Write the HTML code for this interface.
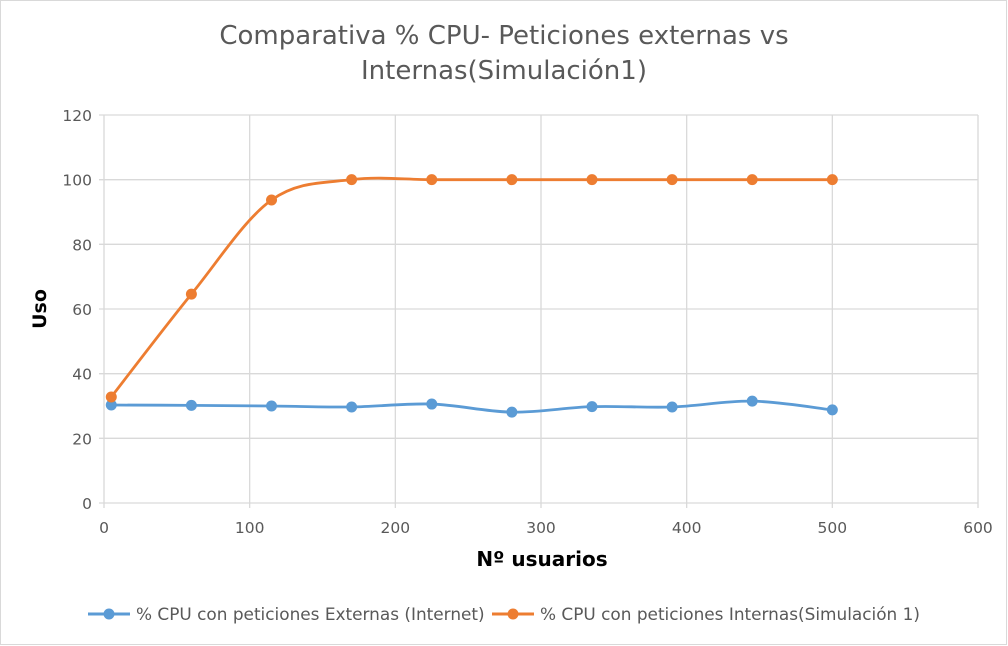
<!DOCTYPE html>
<html><head><meta charset="utf-8"><style>
body{margin:0;background:#fff}
svg{display:block;font-family:"DejaVu Sans","Liberation Sans",sans-serif}
</style></head><body>
<svg width="1008" height="646" viewBox="0 0 1008 646">
<rect x="0.5" y="0.5" width="1006" height="644" fill="#fff" stroke="#d9d9d9"/>
<text x="504" y="44" text-anchor="middle" font-size="26" fill="#595959">Comparativa % CPU- Peticiones externas vs</text>
<text x="504" y="79" text-anchor="middle" font-size="26" fill="#595959">Internas(Simulación1)</text>
<g id="grid"></g>
<g id="axes"></g>
<text x="542" y="566" text-anchor="middle" font-size="20" font-weight="bold" fill="#000">Nº usuarios</text>
<text transform="translate(46,309) rotate(-90)" text-anchor="middle" font-size="19" font-weight="bold" fill="#000">Uso</text>
<g id="series"></g>
<g>
<g>
<line x1="88" y1="614" x2="130" y2="614" stroke="#5b9bd5" stroke-width="3"/>
<circle cx="109" cy="614" r="5.5" fill="#5b9bd5"/>
<text x="136" y="620" font-size="16.9" fill="#595959">% CPU con peticiones Externas (Internet)</text>
</g>
<g>
<line x1="492" y1="614" x2="534" y2="614" stroke="#ed7d31" stroke-width="3"/>
<circle cx="513" cy="614" r="5.5" fill="#ed7d31"/>
<text x="540" y="620" font-size="16.9" fill="#595959">% CPU con peticiones Internas(Simulación 1)</text>
</g>
</g>
</svg>
<script>
const users=[5,60,115,170,225,280,335,390,445,500];
const externas=[30.3,30.2,30,29.7,30.6,28.1,29.8,29.7,31.5,28.8];
const internas=[32.8,64.6,93.7,100,100,100,100,100,100,100];
const xTicks=[0,100,200,300,400,500,600];
const yTicks=[0,20,40,60,80,100,120];
const NS="http://www.w3.org/2000/svg";
const X0=104,X1=978,Y0=503,Y1=115;
const sx=v=>X0+(v-0)/600*(X1-X0);
const sy=v=>Y0-(v-0)/120*(Y0-Y1);
function mk(t,a,p){const e=document.createElementNS(NS,t);for(const k in a)e.setAttribute(k,a[k]);p.appendChild(e);return e;}
const grid=document.getElementById('grid'),axes=document.getElementById('axes'),ser=document.getElementById('series');
yTicks.forEach(v=>{
 const l=mk('line',{x1:X0-5,x2:X1,y1:sy(v),y2:sy(v),stroke:'#d9d9d9','stroke-width':1.3},grid);
 
 
 const t=mk('text',{x:X0-12,y:sy(v)+6,'text-anchor':'end','font-size':15.5,fill:'#595959'},axes);
 t.textContent=v;
 
 
});
xTicks.forEach(v=>{
 const l=mk('line',{x1:sx(v),x2:sx(v),y1:Y1,y2:Y0+5,stroke:'#d9d9d9','stroke-width':1.3},grid);
 
 
 const t=mk('text',{x:sx(v),y:Y0+30,'text-anchor':'middle','font-size':15.5,fill:'#595959'},axes);
 t.textContent=v;
 
 
});
function smooth(pts){
 let d='M'+pts[0][0]+','+pts[0][1];
 for(let i=0;i<pts.length-1;i++){
  const p0=pts[i-1]||pts[i],p1=pts[i],p2=pts[i+1],p3=pts[i+2]||p2;
  const c1=[p1[0]+(p2[0]-p0[0])/6,p1[1]+(p2[1]-p0[1])/6];
  const c2=[p2[0]-(p3[0]-p1[0])/6,p2[1]-(p3[1]-p1[1])/6];
  d+=' C'+c1+' '+c2+' '+p2;
 }
 return d;
}
[[externas,'#5b9bd5','series-externas'],[internas,'#ed7d31','series-internas']].forEach(([vals,col,name])=>{
 const pts=users.map((u,i)=>[sx(u),sy(vals[i])]);
 const p=mk('path',{d:smooth(pts),fill:'none',stroke:col,'stroke-width':2.8},ser);
 
 
 pts.forEach(q=>{
  const c=mk('circle',{cx:q[0],cy:q[1],r:5.5,fill:col},ser);
  
  
 });
});
</script>
</body></html>
